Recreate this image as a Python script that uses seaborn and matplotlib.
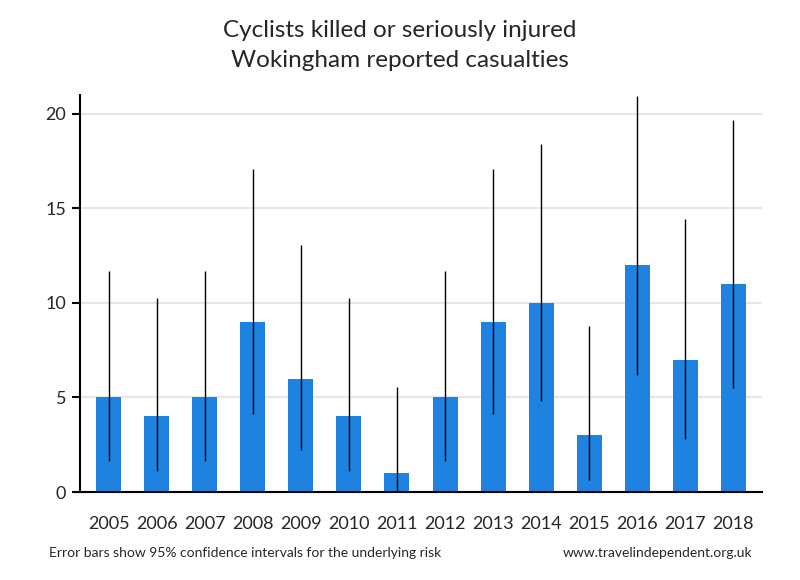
import matplotlib
matplotlib.use("Agg")
import matplotlib.pyplot as plt
import seaborn as sns
import pandas as pd

years = ["2005", "2006", "2007", "2008", "2009", "2010", "2011",
         "2012", "2013", "2014", "2015", "2016", "2017", "2018"]
casualties = [5, 4, 5, 9, 6, 4, 1, 5, 9, 10, 3, 12, 7, 11]
ci_low = [1.62, 1.09, 1.62, 4.12, 2.20, 1.09, 0.03, 1.62, 4.12, 4.80, 0.62, 6.20, 2.81, 5.49]
ci_high = [11.67, 10.24, 11.67, 17.08, 13.06, 10.24, 5.57, 11.67, 17.08, 18.39, 8.77, 20.96, 14.42, 19.68]
y_ticks = [0, 5, 10, 15, 20]

sns.set_style("white")
plt.rcParams["font.family"] = ["Lato", "DejaVu Sans"]

df = pd.DataFrame({"year": years, "value": casualties})

fig = plt.figure(figsize=(8, 5.8), dpi=100)
ax = fig.add_axes([0.1, 0.1517, 0.8525, 0.6845])

sns.barplot(data=df, x="year", y="value", color="#1e82e1", saturation=1,
            width=0.52, linewidth=0, edgecolor="none", ax=ax, zorder=2)
ax.vlines(range(len(years)), ci_low, ci_high, color="black", linewidth=1, zorder=3)

ax.set_xlim(-0.6, 13.6)
ax.set_ylim(0, 21)
ax.set_yticks(y_ticks)
ax.yaxis.grid(True, color="#e6e6e6", linewidth=1.5, zorder=0)
ax.set_axisbelow(True)
ax.set_xlabel("")
ax.set_ylabel("")
for s in ["top", "right"]:
    ax.spines[s].set_visible(False)
for s in ["left", "bottom"]:
    ax.spines[s].set_color("black")
    ax.spines[s].set_linewidth(1.5)
ax.tick_params(axis="y", which="both", left=True, length=6, width=1.5, color="black",
               labelsize=13, pad=4)
ax.tick_params(axis="x", bottom=False, labelsize=13, pad=14)

fig.text(0.5, 0.948, "Cyclists killed or seriously injured", ha="center", va="center", fontsize=17.5)
fig.text(0.5, 0.895, "Wokingham reported casualties", ha="center", va="center", fontsize=17.5)
fig.text(0.061, 0.047, "Error bars show 95% confidence intervals for the underlying risk",
         ha="left", va="center", fontsize=10)
fig.text(0.94, 0.047, "www.travelindependent.org.uk", ha="right", va="center", fontsize=10)

fig.savefig("out.png", dpi=100)
